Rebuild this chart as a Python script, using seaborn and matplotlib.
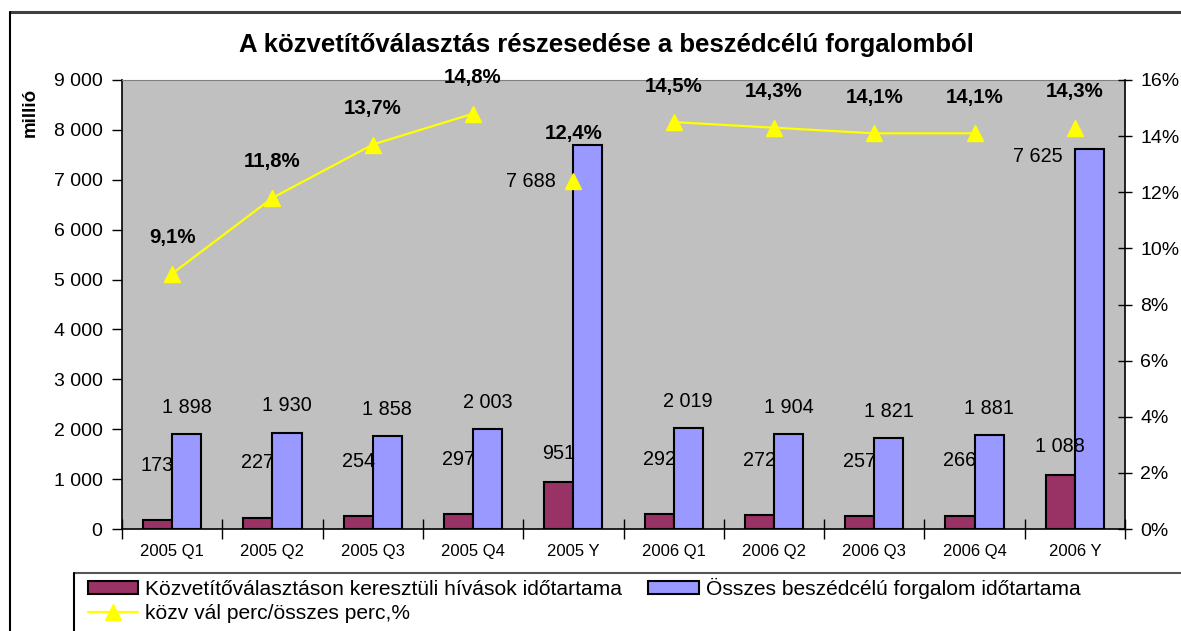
import matplotlib
matplotlib.use("Agg")
import numpy as np
import pandas as pd
import seaborn as sns
import matplotlib.pyplot as plt
from matplotlib.patches import Patch
from matplotlib.lines import Line2D
from matplotlib.ticker import FuncFormatter

# adatok a képről
idoszak = ['2005 Q1', '2005 Q2', '2005 Q3', '2005 Q4', '2005 Y',
           '2006 Q1', '2006 Q2', '2006 Q3', '2006 Q4', '2006 Y']
kozvetito = [173, 227, 254, 297, 951, 292, 272, 257, 266, 1088]
osszes = [1898, 1930, 1858, 2003, 7688, 2019, 1904, 1821, 1881, 7625]
arany = [9.1, 11.8, 13.7, 14.8, 12.4, 14.5, 14.3, 14.1, 14.1, 14.3]

nev_k = 'Közvetítőválasztáson keresztüli hívások időtartama'
nev_o = 'Összes beszédcélú forgalom időtartama'
nev_a = 'közv vál perc/összes perc,%'

MAROON = '#993366'
BLUE = '#9999FF'
YELLOW = '#FFFF00'

sns.set_style('ticks')
plt.rcParams['font.family'] = ['Liberation Sans', 'DejaVu Sans']
for k in ['text.color', 'axes.labelcolor', 'xtick.color', 'ytick.color', 'axes.edgecolor']:
    plt.rcParams[k] = 'black'

df = pd.DataFrame({
    'időszak': idoszak * 2,
    'sorozat': [nev_k] * len(idoszak) + [nev_o] * len(idoszak),
    'érték': kozvetito + osszes,
})

W, H = 1181, 631
fig = plt.figure(figsize=(W / 100, H / 100), dpi=100)
ax = fig.add_axes([122 / W, 1 - 529 / H, (1125 - 122) / W, 449 / H])

sns.barplot(data=df, x='időszak', y='érték', hue='sorozat', order=idoszak,
            hue_order=[nev_k, nev_o], palette=[MAROON, BLUE], saturation=1,
            width=0.58, gap=0, edgecolor='black', linewidth=1.5, errorbar=None,
            legend=False, ax=ax, zorder=2)

ax.set_facecolor('#C0C0C0')
ax.set_xlim(-0.5, len(idoszak) - 0.5)
ax.set_ylim(0, 9000)
ax.set_yticks(np.arange(0, 9001, 1000))
ax.yaxis.set_major_formatter(FuncFormatter(lambda v, p: f"{int(v):,}".replace(",", " ")))
ax.tick_params(axis='y', direction='out', length=7, width=1, pad=7, labelsize=14)
ax.set_xticks(np.arange(-0.5, len(idoszak), 1))
ax.set_xticklabels([])
ax.tick_params(axis='x', which='major', direction='inout', length=14, width=1)
ax.set_xticks(range(len(idoszak)), minor=True)
ax.set_xticklabels(idoszak, minor=True)
ax.tick_params(axis='x', which='minor', length=0, pad=11, labelsize=12)
ax.set_xlabel('')
ax.set_ylabel('')
ax.spines['top'].set_color('#808080')
ax.spines['right'].set_visible(False)
for s in ['left', 'bottom']:
    ax.spines[s].set_color('black')
    ax.spines[s].set_linewidth(1.2)

# oszlopfeliratok
for bar, lab in zip(ax.containers[0], idoszak):
    off = 28 if lab.endswith('Y') else 55
    v = bar.get_height()
    ax.annotate(f"{int(v):,}".replace(",", " "),
                (bar.get_x() + bar.get_width() / 2, v), xytext=(0, off),
                textcoords='offset pixels', ha='center', va='center', fontsize=14.3)

eves_hely = {'2005 Y': (-17, -36), '2006 Y': (-12, -8)}
for bar, lab in zip(ax.containers[1], idoszak):
    v = bar.get_height()
    txt = f"{int(v):,}".replace(",", " ")
    if lab in eves_hely:
        dx, dy = eves_hely[lab]
        ax.annotate(txt, (bar.get_x(), v), xytext=(dx, dy),
                    textcoords='offset pixels', ha='right', va='center', fontsize=14.3)
    else:
        ax.annotate(txt, (bar.get_x() + bar.get_width() / 2, v), xytext=(0, 27),
                    textcoords='offset pixels', ha='center', va='center', fontsize=14.3)

# arány vonal a jobb tengelyen
ax2 = ax.twinx()
xs = np.arange(len(idoszak))
vonal = np.array(arany, dtype=float)
vonal[[i for i, l in enumerate(idoszak) if l.endswith('Y')]] = np.nan
ax2.plot(xs, vonal, color=YELLOW, lw=1.6, zorder=3)
ax2.plot(xs, arany, ls='none', marker='^', markersize=11, color=YELLOW,
         markeredgecolor=YELLOW, zorder=4)
for x, p, lab in zip(xs, arany, idoszak):
    off = 48 if lab == '2005 Y' else 36
    ax2.annotate(f"{p:.1f}%".replace(".", ","), (x, p), xytext=(0, off),
                 textcoords='offset pixels', ha='center', va='center',
                 fontsize=14.7, fontweight='bold')
ax2.set_ylim(0, 16)
ax2.set_yticks(np.arange(0, 17, 2))
ax2.yaxis.set_major_formatter(FuncFormatter(lambda v, p: f"{int(v)}%"))
ax2.tick_params(axis='y', direction='inout', length=10, width=1, pad=6, labelsize=14)
for s in ['top', 'left', 'bottom']:
    ax2.spines[s].set_visible(False)
ax2.spines['right'].set_color('black')
ax2.spines['right'].set_linewidth(1.2)

# cím, tengelyfelirat
fig.text(606 / W, 1 - 45 / H, 'A közvetítőválasztás részesedése a beszédcélú forgalomból',
         ha='center', va='center', fontsize=18.5, fontweight='bold')
fig.text(30 / W, 1 - 112 / H, 'millió', rotation=90, ha='center', va='center',
         fontsize=13.5, fontweight='bold')

# külső keret
fig.add_artist(Line2D([10 / W, 1], [1 - 12 / H, 1 - 12 / H], transform=fig.transFigure,
                      color='#404040', lw=2.2))
fig.add_artist(Line2D([10 / W, 10 / W], [0, 1 - 12 / H], transform=fig.transFigure,
                      color='black', lw=1.5))

# jelmagyarázat
fig.add_artist(Line2D([74 / W, 1], [1 - 573 / H, 1 - 573 / H], transform=fig.transFigure,
                      color='#555555', lw=1.5))
fig.add_artist(Line2D([74 / W, 74 / W], [0, 1 - 573 / H], transform=fig.transFigure,
                      color='black', lw=1.5))
handles = [Patch(facecolor=MAROON, edgecolor='black', lw=1.5),
           Line2D([], [], color=YELLOW, lw=1.6, marker='^', markersize=11),
           Patch(facecolor=BLUE, edgecolor='black', lw=1.5)]
fig.legend(handles, [nev_k, nev_a, nev_o], ncol=2, loc='upper left',
           bbox_to_anchor=(88 / W, 1 - 578 / H), frameon=False, borderpad=0,
           borderaxespad=0, fontsize=15.1, handlelength=2.4, handleheight=0.6,
           handletextpad=0.33, labelspacing=0.22, columnspacing=1.25)

fig.savefig('out.png', dpi=100)
